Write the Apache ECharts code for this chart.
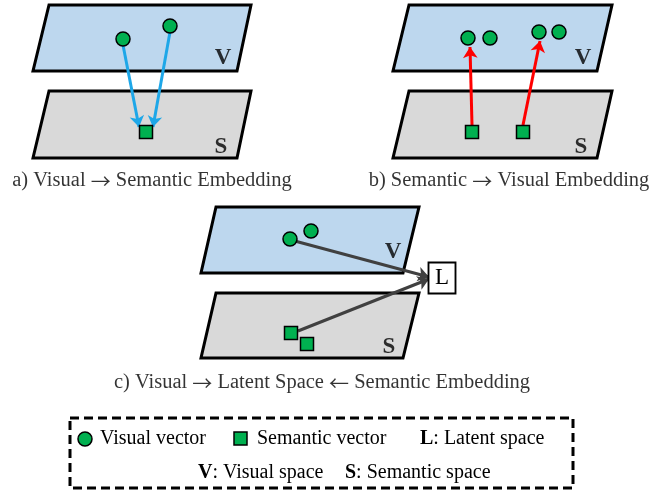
<!DOCTYPE html>
<html><head><meta charset="utf-8">
<script src="https://cdn.jsdelivr.net/npm/echarts@6/dist/echarts.min.js"></script>
<style>html,body{margin:0;padding:0;background:#fff}#c{width:671px;height:493px}</style>
</head><body><div id="c"></div>
<script>
// ---- data (diagram coordinates in a 671 x 493 space) ----
const visualPlanes = [
  [[49,5],[251,5],[237,71],[33,71]],
  [[409,5],[612,5],[597,71],[393,71]],
  [[216,207],[419,207],[403,273],[201,273]]
];
const semanticPlanes = [
  [[49,91],[251,91],[237,158],[33,158]],
  [[409,91],[612,91],[597,158],[393,158]],
  [[216,293],[419,293],[403,358],[201,358]]
];
const visualVectors = [[123,39],[170,26],[468,38],[490,38],[539,32],[559,32],[290,239],[311,231]];
const semanticVectors = [[146,132],[472,132],[523,132],[291,333],[307,344]];
const blueArrows = [[[123,45],[139,127]],[[170,32],[153,127]]];
const redArrows = [[[472,125],[470,47]],[[523,125],[540,41]]];
const grayArrows = [[[291,240],[429,277]],[[298,331],[429,279]]];
const vLabels = [[223,58],[583,58],[393,252]];
const sLabels = [[221,147],[581,147],[389,347]];
const latentBox = [442,278];
const captions = [
  {text:'a) Visual {a|\u2192} Semantic Embedding', pos:[152,181]},
  {text:'b) Semantic {a|\u2192} Visual Embedding', pos:[509,181]},
  {text:'c) Visual {a|\u2192} Latent Space {a|\u2190} Semantic Embedding', pos:[322,383]}
];

const FONT = '"Liberation Serif","Times New Roman",serif';
const chart = echarts.init(document.getElementById('c'), null, {renderer:'canvas'});

function planeSeries(planes, fill){
  return {
    type:'custom', coordinateSystem:'cartesian2d', silent:true, z:1,
    data: planes.map((p,i)=>[p[0][0],p[0][1],i]),
    renderItem:(params, api)=>{
      const pts = planes[params.dataIndex].map(c=>api.coord(c));
      return {type:'polygon', shape:{points:pts},
        style:{fill:fill, stroke:'#000', lineWidth:3, lineJoin:'miter'}};
    }
  };
}
function arrowSeries(data, color){
  return {
    type:'lines', coordinateSystem:'cartesian2d', z:3, silent:true,
    symbol:['none','arrow'], symbolSize:11,
    lineStyle:{color:color, width:3, opacity:1},
    data: data.map(d=>({coords:d}))
  };
}
const plainLabel = {textBorderWidth:0, textShadowBlur:0, color:'#000', fontFamily:FONT};
function textSeries(data, text, size, weight){
  return {
    type:'scatter', symbolSize:0, z:5, silent:true, data:data,
    label:Object.assign({show:true, position:'inside', formatter:text,
      fontSize:size, fontWeight:weight}, plainLabel)
  };
}

chart.setOption({
  animation:false,
  grid:{left:0,right:0,top:0,bottom:0},
  xAxis:{type:'value',min:0,max:671,show:false},
  yAxis:{type:'value',min:0,max:493,inverse:true,show:false},
  series:[
    planeSeries(visualPlanes,'#bdd7ee'),
    planeSeries(semanticPlanes,'#d9d9d9'),
    arrowSeries(blueArrows,'#1ea7e8'),
    arrowSeries(redArrows,'#ff0000'),
    arrowSeries(grayArrows,'#404040'),
    {type:'scatter', z:4, silent:true, symbol:'circle', symbolSize:14, data:visualVectors,
      itemStyle:{color:'#00b050', borderColor:'#000', borderWidth:1.5, opacity:1}},
    {type:'scatter', z:4, silent:true, symbol:'rect', symbolSize:13, data:semanticVectors,
      itemStyle:{color:'#00b050', borderColor:'#000', borderWidth:1.5, opacity:1}},
    textSeries(vLabels,'V',23,'bold'),
    textSeries(sLabels,'S',23,'bold'),
    {type:'scatter', z:4, silent:true, symbol:'rect', symbolSize:[27,31], data:[latentBox],
      itemStyle:{color:'#fff', borderColor:'#000', borderWidth:2, opacity:1},
      label:Object.assign({show:true, position:'inside', formatter:'L', fontSize:23}, plainLabel)},
    {type:'scatter', symbolSize:0, silent:true, data:captions.map(c=>c.pos),
      label:Object.assign({show:true, position:'inside', fontSize:20.5,
        formatter:p=>captions[p.dataIndex].text,
        rich:{a:{fontFamily:'"Noto Sans CJK SC"', fontSize:20, color:'#000'}}}, plainLabel)}
  ],
  graphic:[
    {type:'rect', shape:{x:70,y:418,width:503,height:70},
      style:{fill:'none', stroke:'#000', lineWidth:3, lineDash:[9,5]}},
    {type:'circle', shape:{cx:85,cy:439,r:7}, style:{fill:'#00b050',stroke:'#000',lineWidth:1.5}},
    {type:'text', x:100, y:439, style:{text:'Visual vector', font:'20px '+FONT, fill:'#000', verticalAlign:'middle'}},
    {type:'rect', shape:{x:234,y:432,width:13,height:13}, style:{fill:'#00b050',stroke:'#000',lineWidth:1.5}},
    {type:'text', x:257, y:439, style:{text:'Semantic vector', font:'20px '+FONT, fill:'#000', verticalAlign:'middle'}},
    {type:'text', x:420, y:439, style:{text:'{b|L}: Latent space', font:'20px '+FONT, fill:'#000', verticalAlign:'middle',
      rich:{b:{fontWeight:'bold', fontFamily:FONT, fontSize:20}}}},
    {type:'text', x:198, y:473, style:{text:'{b|V}: Visual space', font:'20px '+FONT, fill:'#000', verticalAlign:'middle',
      rich:{b:{fontWeight:'bold', fontFamily:FONT, fontSize:20}}}},
    {type:'text', x:345, y:473, style:{text:'{b|S}: Semantic space', font:'20px '+FONT, fill:'#000', verticalAlign:'middle',
      rich:{b:{fontWeight:'bold', fontFamily:FONT, fontSize:20}}}}
  ]
});
</script></body></html>
